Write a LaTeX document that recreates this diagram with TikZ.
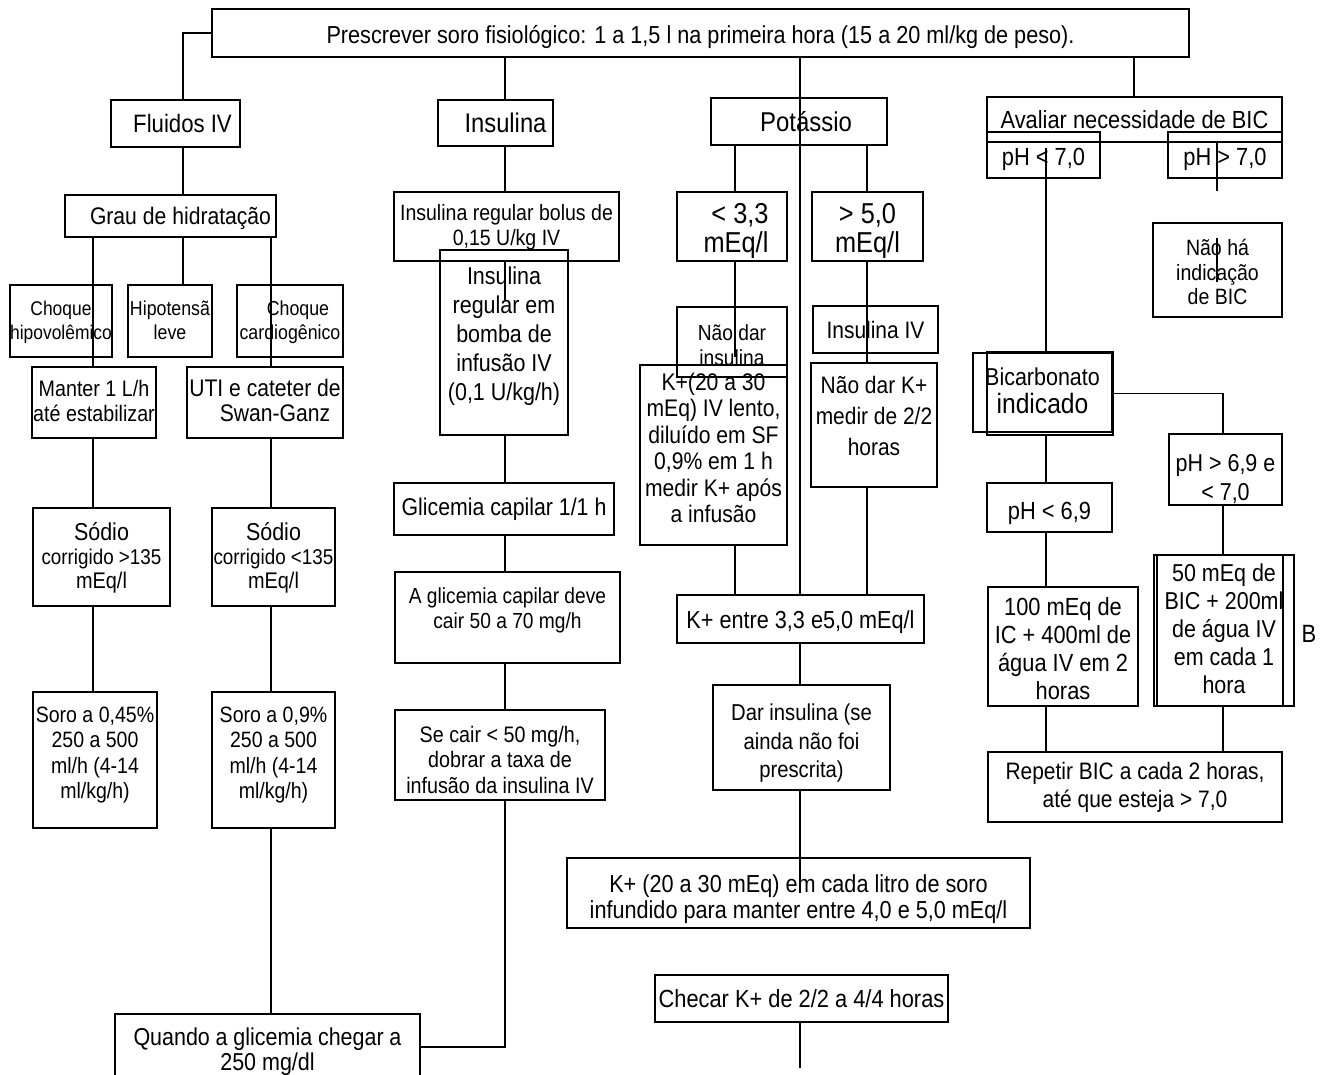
\documentclass[tikz,border=0pt]{standalone}
\usepackage{fontspec}
\setmainfont{Liberation Sans}[FakeStretch=0.88]
\usetikzlibrary{calc}

% font size / baseline shorthand
\newcommand\fz[2]{\fontsize{#1}{#2}\selectfont}
% centred multi-line text of zero size, optional upward shift
\newcommand\zt[2][0pt]{\raisebox{\dimexpr #1-4.5pt\relax}[0pt][0pt]{\makebox[0pt]{\begin{tabular}{@{}c@{}}#2\end{tabular}}}}
% box given by its corners in pixel units: [options]{name}{x1}{y1}{x2}{y2}{text}
\newcommand\flbox[7][]{%
  \node[box,minimum width={(#5-#3)*0.5pt},minimum height={(#6-#4)*0.5pt},#1]
    (#2) at ({(#3+#5)/2},{(#4+#6)/2}) {#7};}

\begin{document}
\begin{tikzpicture}[x=0.5pt,y=-0.5pt,
  box/.style={draw,rectangle,line width=1pt,inner sep=0pt,outer sep=0pt},
  link/.style={line width=0.9pt}]
\useasboundingbox (0,0) rectangle (1327,1075);
\fill[white] (0,0) rectangle (1327,1075);
\clip (0,0) rectangle (1327,1075);

% column positions of the vertical connectors
\coordinate (c93) at (93,0);
\coordinate (c183) at (183,0);
\coordinate (c271) at (271,0);
\coordinate (c505) at (505,0);
\coordinate (c735) at (735,0);
\coordinate (c800) at (800,0);
\coordinate (c867) at (867,0);
\coordinate (c1046) at (1046,0);
\coordinate (c1134) at (1134,0);
\coordinate (c1217) at (1217,0);
\coordinate (c1223) at (1223,0);

% ---------- header ----------
\flbox[font=\fz{12.3}{14}]{top}{212}{9}{1189}{57}{\zt[-1pt]{Prescrever soro fisiológico: 1 a 1,5 l na primeira hora (15 a 20 ml/kg de peso).}}

% ---------- fluids ----------
\flbox[font=\fz{12.6}{14}]{fluid}{111}{100}{240}{147}{\zt{\hspace{7pt}Fluidos IV}}
\flbox[font=\fz{12}{14}]{grau}{65}{195}{276}{237}{\zt{\hspace{10pt}\makebox[90.5pt][s]{Grau de hidratação}}}
\flbox[font=\fz{9.9}{12}]{hipo}{10}{285}{112}{357}{\zt[1pt]{Choque\\hipovolêmico}}
\flbox[font=\fz{10.1}{12}]{hipot}{128}{285}{212}{357}{\zt[1pt]{Hipotensã\\leve}}
\flbox[font=\fz{10.1}{12}]{card}{237}{285}{343}{357}{\zt[1pt]{\hspace{8pt}Choque\\cardiogênico}}
\flbox[font=\fz{11.2}{12.5}]{mant}{32}{367}{156}{438}{\zt[1pt]{Manter 1 L/h\\até estabilizar}}
\flbox[font=\fz{12}{12.5}]{uti}{187}{367}{343}{438}{\zt[1pt]{UTI e cateter de\\\hspace{10pt}Swan-Ganz}}
\flbox{sod1}{33}{508}{170}{606}{\zt[1pt]{{\fz{12.2}{14}Sódio}\\{\fz{10.7}{14}corrigido >135}\\{\fz{11.3}{14}mEq/l}}}
\flbox{sod2}{212}{508}{335}{606}{\zt[1pt]{{\fz{12.2}{14}Sódio}\\{\fz{10.7}{14}corrigido <135}\\{\fz{11.3}{14}mEq/l}}}
\flbox[font=\fz{11.1}{12.75}]{soro1}{33}{692}{157}{828}{\zt[4pt]{Soro a 0,45\%\\250 a 500\\ml/h (4-14\\ml/kg/h)}}
\flbox[font=\fz{11.1}{12.75}]{soro2}{212}{692}{335}{828}{\zt[4pt]{Soro a 0,9\%\\250 a 500\\ml/h (4-14\\ml/kg/h)}}
\flbox[font=\fz{12.2}{12}]{quando}{115}{1014}{420}{1080}{\zt[-1.5pt]{\makebox[134pt][s]{Quando a glicemia chegar a}\\250 mg/dl}}

% ---------- insulin ----------
\flbox[font=\fz{13.5}{14}]{ins}{438}{100}{553}{146}{\zt[-1pt]{\hspace{10pt}Insulina}}
\flbox[font=\fz{11.1}{12.5}]{bolus}{394}{192}{619}{261}{\zt[1pt]{Insulina regular bolus de\\0,15 U/kg IV}}
\flbox[font=\fz{12.2}{14.5}]{pump}{440}{250}{568}{435}{\zt[4.5pt]{Insulina\\regular em\\bomba de\\infusão IV\\(0,1 U/kg/h)}}
\flbox[font=\fz{12.1}{14}]{glic}{394}{483}{614}{535}{\zt[1pt]{Glicemia capilar 1/1 h}}
\flbox[font=\fz{10.9}{12.5}]{aglic}{395}{572}{620}{663}{\zt[5pt]{A glicemia capilar deve\\cair 50 a 70 mg/h}}
\flbox[font=\fz{11.2}{12.75}]{secair}{395}{710}{605}{800}{\zt[-2pt]{Se cair < 50 mg/h,\\dobrar a taxa de\\infusão da insulina IV}}

% ---------- potassium ----------
\flbox[font=\fz{13.6}{14}]{pot}{711}{98}{887}{145}{\zt[-1pt]{\hspace{7pt}Potássio}}
\flbox[font=\fz{14.4}{14}]{k33}{677}{192}{787}{261}{\zt[-2pt]{\hspace{8pt}< 3,3\\\hspace{4pt}mEq/l}}
\flbox[font=\fz{14.4}{14}]{k50}{812}{192}{923}{261}{\zt[-2pt]{> 5,0\\mEq/l}}
\flbox[font=\fz{10.9}{12.5}]{ndi}{677}{307}{787}{377}{\zt[-1pt]{Não dar\\insulina}}
\flbox[font=\fz{11.9}{14}]{iiv}{813}{306}{938}{353}{\zt{Insulina IV}}
\flbox[font=\fz{12}{13.25}]{kiv}{640}{365}{787}{545}{\zt[3.5pt]{K+(20 a 30\\mEq) IV lento,\\diluído em SF\\0,9\% em 1 h\\medir K+ após\\a infusão}}
\flbox[font=\fz{11.9}{15.5}]{ndk}{811}{363}{937}{487}{\zt[5pt]{Não dar K+\\medir de 2/2\\horas}}
\flbox[font=\fz{12.3}{14}]{kent}{677}{595}{924}{643}{\zt[-0.5pt]{K+ entre 3,3 e5,0 mEq/l}}
\flbox[font=\fz{11.5}{14.3}]{dar}{713}{685}{890}{790}{\zt[-1.5pt]{Dar insulina (se\\ainda não foi\\prescrita)}}
\flbox[font=\fz{12.3}{13}]{k2030}{567}{858}{1030}{928}{\zt[-2pt]{K+ (20 a 30 mEq) em cada litro de soro\\infundido para manter entre 4,0 e 5,0 mEq/l}}
\flbox[font=\fz{12.4}{14}]{chec}{655}{975}{948}{1022}{\zt{Checar K+ de 2/2 a 4/4 horas}}

% ---------- bicarbonate ----------
\flbox[font=\fz{12.4}{14}]{aval}{987}{97}{1282}{142}{\zt{Avaliar necessidade de BIC}}
\flbox[font=\fz{12.4}{14}]{phl}{987}{132}{1100}{178}{\zt[-1pt]{pH < 7,0}}
\flbox[font=\fz{12.4}{14}]{phg}{1168}{132}{1282}{178}{\zt[-1pt]{pH > 7,0}}
\flbox[font=\fz{11.1}{12.25}]{nha}{1153}{223}{1282}{317}{\zt[-1pt]{Não há\\indicação\\de BIC}}
\flbox{bicb}{973}{353}{1112}{432}{\zt[1pt]{{\fz{12.2}{13.3}Bicarbonato}\\{\fz{14}{13.3}indicado}}}
\flbox{bic}{987}{352}{1113}{435}{}
\flbox[font=\fz{12.4}{14}]{ph69}{987}{483}{1112}{532}{\zt[-1.5pt]{pH < 6,9}}
\flbox[font=\fz{12.2}{14.5}]{ph697}{1169}{434}{1282}{505}{\zt[-4pt]{pH > 6,9 e\\< 7,0}}
\flbox[font=\fz{12.4}{14}]{b100}{988}{587}{1138}{706}{\zt[-1pt]{100 mEq de\\IC + 400ml de\\água IV em 2\\horas}}
\flbox[font=\fz{12.2}{14}]{b50}{1154}{555}{1294}{706}{\zt[1pt]{50 mEq de\\BIC + 200ml\\de água IV\\em cada 1\\hora}}
\draw[line width=1pt] ([xshift=1.5pt]b50.north west) -- ([xshift=1.5pt]b50.south west);
\draw[line width=1pt] ([xshift=-5.5pt]b50.north east) -- ([xshift=-5.5pt]b50.south east);
\node[font=\fz{12.5}{14},inner sep=0pt] (blabel) at (1309,634) {B};
\flbox[font=\fz{11.9}{14}]{rep}{988}{752}{1282}{822}{\zt[1pt]{\makebox[129.5pt][s]{Repetir BIC a cada 2 horas,}\\até que esteja > 7,0}}

% free ends of connectors that stop inside a box
\coordinate (pumpin) at (505,300);
\coordinate (ndiin) at (735,357);
\coordinate (k2030in) at (800,893);
\coordinate (chend) at (800,1068);
\coordinate (phlin) at (1046,148);
\coordinate (phgin) at (1217,143);
\coordinate (phgout) at (1217,191);
\coordinate (nhatop) at (1217,238);
\coordinate (nhabot) at (1217,282);

% ---------- connectors ----------
\draw[link] (top.west) -| (fluid.north -| c183);
\draw[link] (top.south -| c505) -- (ins.north -| c505);
\draw[link] (top.south -| c800) -- (kent.north -| c800);
\draw[link] (top.south -| c1134) -- (aval.north -| c1134);

\draw[link] (fluid.south -| c183) -- (grau.north -| c183);
\draw[link] (grau.south -| c93) -- (mant.north -| c93);
\draw[link] (grau.south -| c183) -- (hipot.north -| c183);
\draw[link] (grau.south -| c271) -- (uti.north -| c271);
\draw[link] (mant.south -| c93) -- (sod1.north -| c93);
\draw[link] (sod1.south -| c93) -- (soro1.north -| c93);
\draw[link] (uti.south -| c271) -- (sod2.north -| c271);
\draw[link] (sod2.south -| c271) -- (soro2.north -| c271);
\draw[link] (soro2.south -| c271) -- (quando.north -| c271);

\draw[link] (ins.south -| c505) -- (bolus.north -| c505);
\draw[link] (bolus.south -| c505) -- (pumpin);
\draw[link] (pump.south -| c505) -- (glic.north -| c505);
\draw[link] (glic.south -| c505) -- (aglic.north -| c505);
\draw[link] (aglic.south -| c505) -- (secair.north -| c505);
\draw[link] (secair.south -| c505) |- (quando.east);

\draw[link] (pot.south -| c735) -- (k33.north -| c735);
\draw[link] (pot.south -| c867) -- (k50.north -| c867);
\draw[link] (k33.south -| c735) -- (ndiin);
\draw[link] (k50.south -| c867) -- (ndk.north -| c867);
\draw[link] (kiv.south -| c735) -- (kent.north -| c735);
\draw[link] (ndk.south -| c867) -- (kent.north -| c867);
\draw[link] (kent.south -| c800) -- (dar.north -| c800);
\draw[link] (dar.south -| c800) -- (k2030in);
\draw[link] (chec.south -| c800) -- (chend);

\draw[link] (phlin) -- (bic.north -| c1046);
\draw[link] (phgin) -- (phgout);
\draw[link] (nhatop) -- (nhabot);
\draw[link] (bic.east) -| (ph697.north -| c1223);
\draw[link] (bic.south -| c1046) -- (ph69.north -| c1046);
\draw[link] (ph69.south -| c1046) -- (b100.north -| c1046);
\draw[link] (b100.south -| c1046) -- (rep.north -| c1046);
\draw[link] (ph697.south -| c1223) -- (b50.north -| c1223);
\draw[link] (b50.south -| c1223) -- (rep.north -| c1223);
\end{tikzpicture}
\end{document}
